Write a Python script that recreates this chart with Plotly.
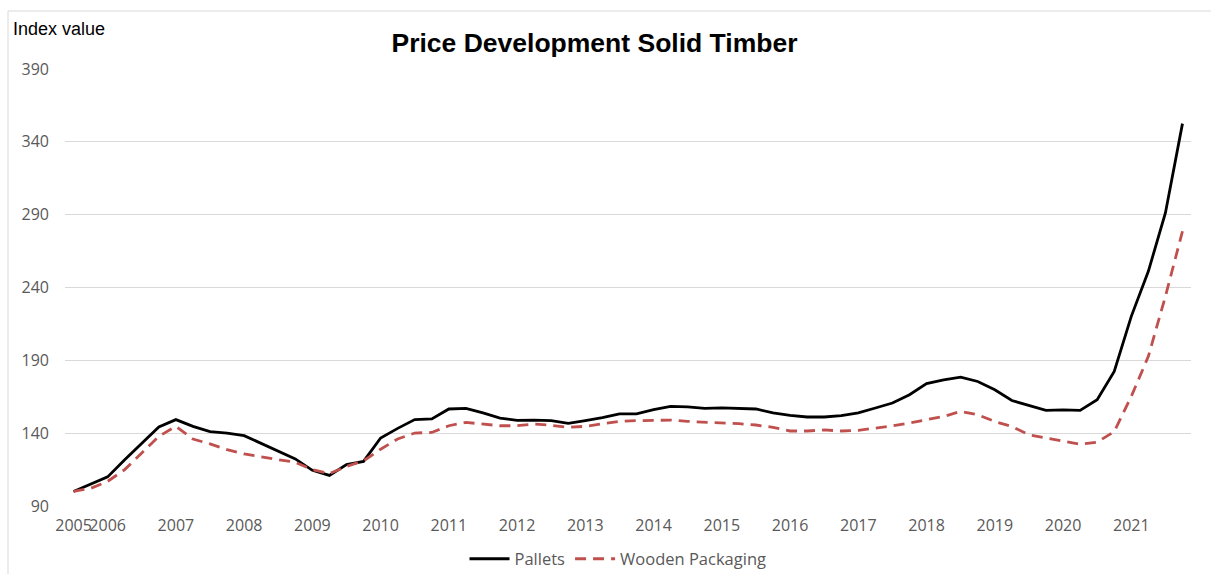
import plotly.graph_objects as go

# Quarterly categories: 2005 Q3 .. 2021 Q4
quarters = ["2005 Q3", "2005 Q4"] + [f"{y} Q{q}" for y in range(2006, 2022) for q in range(1, 5)]

tick_positions = ["2005 Q3"] + [f"{y} Q1" for y in range(2006, 2022)]
tick_labels = ["2005", "2006", "2007", "2008", "2009", "2010", "2011", "2012", "2013",
               "2014", "2015", "2016", "2017", "2018", "2019", "2020", "2021"]

pallets = [100, 105, 110, 121.8, 133, 144.3, 149.3, 144.7, 141, 140.1,
           138.3, 133, 127.5, 122.3, 114.5, 111, 118.4, 120.6, 136.7, 143.3,
           149.3, 149.8, 156.6, 157, 153.9, 150.4, 148.8, 149, 148.6, 146.7,
           148.6, 150.6, 153.2, 153.2, 156.1, 158.4, 158, 157, 157.3, 157,
           156.6, 153.9, 152.2, 151.1, 151.1, 152, 153.9, 157.3, 160.7, 166.4,
           174, 176.6, 178.5, 175.5, 169.8, 162.4, 158.8, 155.6, 156, 155.6,
           162.9, 182.4, 220.2, 251.1, 291.2, 352.5]

wooden_packaging = [100, 102.1, 106.9, 115, 126.4, 137.8, 144.7, 136, 132.6, 128.7,
                    125.7, 123.6, 121.8, 120, 115, 112.2, 117.2, 121, 129, 136,
                    140.1, 140.5, 145.1, 147.4, 146.5, 145.1, 145.1, 146.3, 145.4, 144,
                    144.7, 146.5, 148.1, 148.6, 148.8, 149, 148.1, 147.7, 147.4, 146.5,
                    145.6, 144, 141.5, 141.5, 142.2, 141.5, 141.9, 143.3, 145.1, 147,
                    149.3, 151.5, 154.9, 152.6, 148, 144.6, 138.9, 136.6, 134.3, 132.4,
                    133.8, 141.1, 165.2, 192.7, 233.9, 278.6]

y_ticks = [90, 140, 190, 240, 290, 340, 390]

W, H = 1211, 574
L, R, T, B = 65, 1191, 69, 506  # plot area in pixels


def px(x):
    return (x - L) / (R - L)


def py(y):
    return (B - y) / (B - T)


fig = go.Figure()
fig.add_trace(go.Scatter(x=quarters, y=pallets, mode="lines", name="Pallets",
                         line=dict(color="#000000", width=2.8)))
fig.add_trace(go.Scatter(x=quarters, y=wooden_packaging, mode="lines", name="Wooden Packaging",
                         line=dict(color="#C0504D", width=2.8, dash="11px,7px")))

tick_font = dict(family="Open Sans, sans-serif", size=16, color="#595959")
legend_font = dict(family="Open Sans, sans-serif", size=16.5, color="#595959")

fig.update_layout(
    width=W, height=H,
    margin=dict(l=L, r=W - R, t=T, b=H - B, autoexpand=False),
    paper_bgcolor="white", plot_bgcolor="white",
    title=dict(text="<b>Price Development Solid Timber</b>",
               font=dict(family="Liberation Sans, Arial, sans-serif", size=26.5, color="#000000"),
               x=594.5 / W, xanchor="center", y=1 - 43 / H, yanchor="middle",
               xref="container", yref="container"),
    showlegend=True,
    legend=dict(orientation="h", x=px(618), xanchor="center", y=py(559), yanchor="middle",
                font=legend_font, bgcolor="rgba(0,0,0,0)", itemwidth=40),
    xaxis=dict(type="category", categoryorder="array", categoryarray=quarters,
               range=[-0.5, len(quarters) - 0.5],
               tickmode="array", tickvals=tick_positions, ticktext=tick_labels,
               showgrid=False, showline=False, zeroline=False, ticks="",
               tickfont=tick_font, ticklabelstandoff=8, tickangle=0),
    yaxis=dict(range=[90, 390], tickmode="array", tickvals=y_ticks,
               showgrid=True, gridcolor="#D9D9D9", gridwidth=1,
               showline=False, zeroline=False, ticks="",
               tickfont=tick_font, ticklabelstandoff=15),
    annotations=[
        dict(text="Index value", xref="paper", yref="paper", x=px(11), y=py(29),
             xanchor="left", yanchor="middle", showarrow=False,
             font=dict(family="Liberation Sans, Arial, sans-serif", size=18, color="#000000")),
    ],
    shapes=[
        # white background behind the title hiding the top gridline
        dict(type="rect", xref="paper", yref="paper", x0=px(370), x1=px(830),
             y0=py(75), y1=py(62), fillcolor="white", line=dict(width=0), layer="above"),
        # chart border (top and left)
        dict(type="line", xref="paper", yref="paper", x0=px(8), x1=px(W + 5),
             y0=py(11), y1=py(11), line=dict(color="#D9D9D9", width=1)),
        dict(type="line", xref="paper", yref="paper", x0=px(8), x1=px(8),
             y0=py(11), y1=py(H + 5), line=dict(color="#D9D9D9", width=1)),
    ],
)

fig.write_html("out.html", config={"displayModeBar": False},
               post_script="document.body.style.margin='0';document.body.style.overflow='hidden';")
